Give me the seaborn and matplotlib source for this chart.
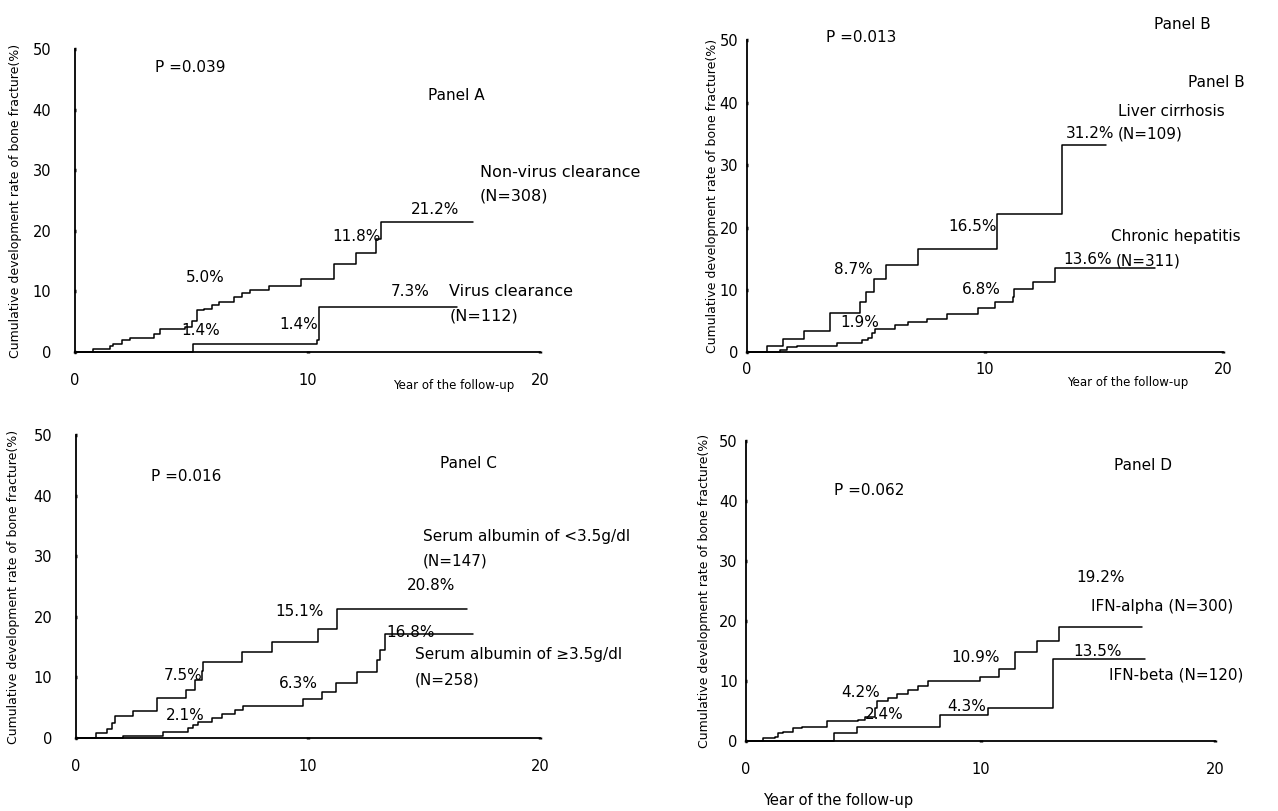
import numpy as np
import pandas as pd
import matplotlib
matplotlib.use("Agg")
import matplotlib.pyplot as plt
import seaborn as sns

# ---------------- data ----------------
# Panel A
a_nonvirus_t = [0, 0.79, 1.51, 1.65, 2.01, 2.37, 3.38, 3.66, 4.74, 5.03, 5.24, 5.53, 5.89, 6.18, 6.82, 7.18, 7.54, 8.33, 9.70, 11.14, 12.07, 12.93, 13.18, 17.1]
a_nonvirus_v = [0, 0.56, 1.0, 1.39, 2.05, 2.38, 3.05, 3.76, 4.15, 5.14, 6.91, 7.08, 7.68, 8.29, 9.01, 9.67, 10.3, 10.9, 12.0, 14.6, 16.4, 18.6, 21.4, 21.4]
a_virus_t = [0, 5.07, 10.4, 10.5, 16.45]
a_virus_v = [0, 1.39, 1.9, 7.36, 7.36]

# Panel B
b_lc_t = [0, 0.87, 1.54, 2.41, 3.50, 4.76, 5.01, 5.35, 5.85, 7.21, 10.5, 13.23, 15.1]
b_lc_v = [0, 1.06, 2.13, 3.46, 6.24, 8.1, 9.7, 11.7, 14.0, 16.6, 22.1, 33.2, 33.2]
b_ch_t = [0, 1.4, 1.68, 2.1, 3.78, 4.83, 5.11, 5.25, 5.39, 6.23, 6.79, 7.56, 8.43, 9.73, 10.43, 11.17, 11.24, 12.04, 12.95, 17.15]
b_ch_v = [0, 0.37, 0.9, 1.06, 1.54, 1.97, 2.35, 3.04, 3.74, 4.38, 4.8, 5.34, 6.09, 7.05, 8.01, 8.92, 10.15, 11.3, 13.56, 13.56]

# Panel C
c_low_t = [0, 0.86, 1.32, 1.54, 1.68, 2.44, 3.48, 4.74, 5.13, 5.42, 5.49, 7.14, 8.43, 10.44, 11.23, 16.84]
c_low_v = [0, 0.72, 1.38, 2.37, 3.64, 4.46, 6.5, 7.88, 9.53, 11.08, 12.57, 14.2, 15.9, 17.9, 21.2, 21.2]
c_high_t = [0, 2.04, 3.76, 4.84, 5.06, 5.27, 5.85, 6.28, 6.85, 7.21, 9.77, 10.59, 11.2, 12.1, 12.96, 13.1, 13.32, 17.13]
c_high_v = [0, 0.34, 0.89, 1.55, 2.1, 2.65, 3.2, 3.92, 4.58, 5.24, 6.34, 7.61, 8.99, 10.9, 12.85, 14.5, 17.1, 17.1]

# Panel D
d_alpha_t = [0, 0.74, 1.24, 1.38, 1.59, 2.02, 2.37, 3.44, 4.79, 5.07, 5.5, 5.57, 6.07, 6.42, 6.92, 7.35, 7.78, 9.98, 10.8, 11.47, 12.4, 13.36, 16.9]
d_alpha_v = [0, 0.4, 0.67, 1.23, 1.5, 2.05, 2.35, 3.27, 3.5, 4.0, 5.4, 6.6, 7.2, 7.8, 8.5, 9.2, 9.9, 10.6, 12.0, 14.8, 16.7, 19.0, 19.0]
d_beta_t = [0, 3.75, 4.72, 8.27, 10.33, 13.1, 17.02]
d_beta_v = [0, 1.23, 2.36, 4.3, 5.5, 13.7, 13.7]

x_ticks = [0, 10, 20]
y_ticks = [0, 10, 20, 30, 40, 50]
y_label = "Cumulative development rate of bone fracture(%)"
x_label = "Year of the follow-up"

# ---------------- style ----------------
sns.set_theme(style="ticks")
plt.rcParams["font.family"] = ["DejaVu Sans"]
plt.rcParams["axes.edgecolor"] = "black"

fig = plt.figure(figsize=(12.78, 8.11), dpi=100)

def px_axes(x0, x20, y0, y50):
    W, H = 1278, 811
    return fig.add_axes([x0 / W, 1 - y0 / H, (x20 - x0) / W, (y0 - y50) / H])

def setup(ax, ylab_x, ytick_pad, xtick_pad):
    ax.set_xlim(0, 20)
    ax.set_ylim(0, 50)
    ax.set_xticks(x_ticks)
    ax.set_yticks(y_ticks)
    sns.despine(ax=ax)
    for s in ("left", "bottom"):
        ax.spines[s].set_linewidth(1.3)
    ax.tick_params(axis="both", length=2, width=2.5, direction="inout",
                   labelsize=10.5, color="black", labelcolor="black")
    ax.tick_params(axis="y", pad=ytick_pad)
    ax.tick_params(axis="x", pad=xtick_pad)
    ax.set_xlabel("")
    ax.set_ylabel(y_label, fontsize=9, color="black")
    ax.yaxis.set_label_coords(ylab_x, 0.5)
    ax.grid(False)

def curve(ax, t, v):
    df = pd.DataFrame({"t": t, "v": v})
    sns.lineplot(data=df, x="t", y="v", ax=ax, color="black", linewidth=1.1,
                 drawstyle="steps-post", estimator=None, sort=False, clip_on=False)

def txt(ax, x, y, s, ha="left", size=11):
    ax.text(x, y, s, ha=ha, va="center", fontsize=size, color="black", clip_on=False)

# Panel A
axA = px_axes(75, 540, 352, 49)
curve(axA, a_nonvirus_t, a_nonvirus_v)
curve(axA, a_virus_t, a_virus_v)
setup(axA, -0.115, 16, 14)
txt(axA, 3.45, 46.9, "P =0.039")
txt(axA, 15.2, 42.3, "Panel A")
txt(axA, 17.4, 29.7, "Non-virus clearance", size=11.5)
txt(axA, 17.4, 25.7, "(N=308)", size=11.5)
txt(axA, 15.5, 23.5, "21.2%", ha="center")
txt(axA, 12.1, 19.1, "11.8%", ha="center")
txt(axA, 5.6, 12.3, "5.0%", ha="center")
txt(axA, 14.4, 10.0, "7.3%", ha="center")
txt(axA, 16.1, 10.0, "Virus clearance", size=11.5)
txt(axA, 16.1, 6.0, "(N=112)", size=11.5)
txt(axA, 5.4, 3.6, "1.4%", ha="center")
txt(axA, 9.6, 4.5, "1.4%", ha="center")
txt(axA, 16.3, -5.6, x_label, ha="center", size=8.5)

# Panel B
axB = px_axes(746.7, 1223, 352.3, 40.3)
curve(axB, b_lc_t, b_lc_v)
curve(axB, b_ch_t, b_ch_v)
setup(axB, -0.058, 5, 6)
txt(axB, 18.3, 52.6, "Panel B", ha="center")
txt(axB, 3.33, 50.4, "P =0.013")
txt(axB, 20.9, 43.3, "Panel B", ha="right")
txt(axB, 15.6, 38.6, "Liver cirrhosis")
txt(axB, 14.4, 35.0, "31.2%", ha="center")
txt(axB, 15.6, 35.0, "(N=109)")
txt(axB, 9.5, 20.2, "16.5%", ha="center")
txt(axB, 15.3, 18.6, "Chronic hepatitis")
txt(axB, 14.3, 14.8, "13.6%", ha="center")
txt(axB, 15.5, 14.6, "(N=311)")
txt(axB, 4.5, 13.2, "8.7%", ha="center")
txt(axB, 9.85, 10.0, "6.8%", ha="center")
txt(axB, 4.75, 4.8, "1.9%", ha="center")
txt(axB, 16.0, -4.8, x_label, ha="center", size=8.5)

# Panel C
axC = px_axes(76, 540, 737.7, 435.2)
curve(axC, c_low_t, c_low_v)
curve(axC, c_high_t, c_high_v)
setup(axC, -0.12, 16, 14)
txt(axC, 3.25, 43.1, "P =0.016")
txt(axC, 15.7, 45.4, "Panel C")
txt(axC, 14.96, 33.2, "Serum albumin of <3.5g/dl")
txt(axC, 14.96, 29.2, "(N=147)")
txt(axC, 15.3, 25.1, "20.8%", ha="center")
txt(axC, 9.65, 20.9, "15.1%", ha="center")
txt(axC, 14.4, 17.4, "16.8%", ha="center")
txt(axC, 14.6, 13.8, "Serum albumin of \u22653.5g/dl")
txt(axC, 14.6, 9.5, "(N=258)")
txt(axC, 4.6, 10.2, "7.5%", ha="center")
txt(axC, 9.6, 9.0, "6.3%", ha="center")
txt(axC, 4.7, 3.7, "2.1%", ha="center")

# Panel D
axD = px_axes(746, 1215, 740.7, 441)
curve(axD, d_alpha_t, d_alpha_v)
curve(axD, d_beta_t, d_beta_v)
setup(axD, -0.075, 5, 14)
txt(axD, 3.75, 41.8, "P =0.062")
txt(axD, 15.7, 45.9, "Panel D")
txt(axD, 15.1, 27.3, "19.2%", ha="center")
txt(axD, 14.7, 22.4, "IFN-alpha (N=300)")
txt(axD, 15.0, 14.8, "13.5%", ha="center")
txt(axD, 15.5, 11.0, "IFN-beta (N=120)")
txt(axD, 9.8, 13.9, "10.9%", ha="center")
txt(axD, 4.9, 8.1, "4.2%", ha="center")
txt(axD, 9.4, 5.7, "4.3%", ha="center")
txt(axD, 5.9, 4.3, "2.4%", ha="center")

fig.text(838 / 1278, 1 - 800 / 811, x_label, ha="center", va="center", fontsize=10.5, color="black")

fig.savefig("out.png", dpi=100, facecolor="white")
